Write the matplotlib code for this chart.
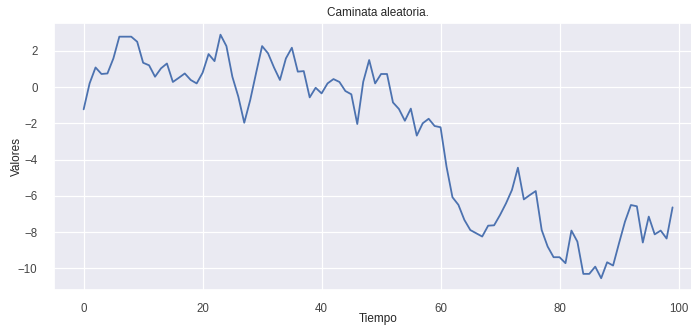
import numpy as np
import matplotlib.pyplot as plt
import seaborn as sns

sns.set_theme(style="darkgrid")
plt.rcParams['font.family'] = ['Liberation Sans', 'DejaVu Sans']

tiempo = list(range(100))
valores = [
    -1.23, 0.20, 1.08, 0.72, 0.75, 1.58, 2.78, 2.78, 2.78, 2.50,
    1.34, 1.20, 0.57, 1.03, 1.30, 0.28, 0.51, 0.75, 0.39, 0.20,
    0.79, 1.82, 1.43, 2.89, 2.26, 0.57, -0.53, -1.97, -0.72, 0.79,
    2.26, 1.86, 1.08, 0.39, 1.58, 2.17, 0.85, 0.88, -0.57, -0.04,
    -0.35, 0.20, 0.44, 0.28, -0.22, -0.40, -2.04, 0.29, 1.49, 0.20,
    0.72, 0.72, -0.85, -1.21, -1.86, -1.19, -2.68, -2.00, -1.75, -2.15,
    -2.22, -4.39, -6.08, -6.50, -7.33, -7.89, -8.07, -8.25, -7.65, -7.63,
    -7.06, -6.42, -5.68, -4.45, -6.20, -5.96, -5.74, -7.89, -8.80, -9.39,
    -9.39, -9.72, -7.92, -8.53, -10.31, -10.31, -9.91, -10.55, -9.67, -9.85,
    -8.62, -7.43, -6.51, -6.58, -8.58, -7.15, -8.13, -7.92, -8.36, -6.64,
]

fig = plt.figure(figsize=(6.91, 3.26), dpi=100)
ax = fig.add_axes([54.2 / 691, 1 - 290.4 / 326, (702 - 54.2) / 691, (290.4 - 22.5) / 326])

ax.plot(tiempo, valores, color="#4c72b0", linewidth=1.3)
ax.grid(linewidth=0.9)
ax.set_title("Caminata aleatoria.", fontsize=8.5, pad=5)
ax.set_xlabel("Tiempo", fontsize=8.5)
ax.xaxis.set_label_coords(0.5, -0.083)
ax.set_ylabel("Valores", fontsize=8.5)
ax.yaxis.set_label_coords(-0.049, 0.5)
ax.tick_params(axis="x", labelsize=8.3, labelcolor="#444444", pad=3)
ax.tick_params(axis="y", labelsize=8.3, labelcolor="#444444", pad=6)

fig.savefig("out.png", dpi=100)
